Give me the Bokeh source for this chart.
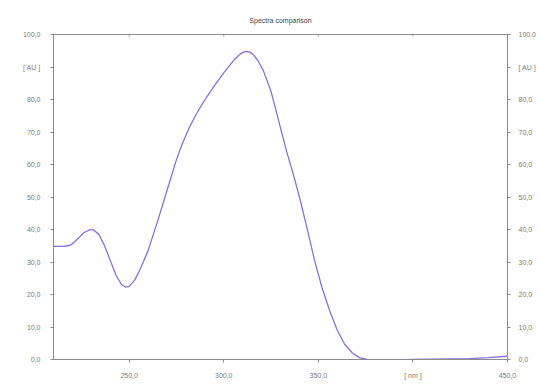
from bokeh.plotting import figure
from bokeh.models import LinearAxis, FixedTicker, Range1d, Title
from bokeh.embed import file_html
from bokeh.resources import INLINE

# Spectrum (wavelength in nm, absorbance in AU)
wavelength = [210, 215, 218, 220, 223, 226, 229, 231, 234, 237, 240, 243, 246, 248,
              250, 253, 256, 260, 265, 270, 275, 278, 280, 282, 285, 288, 291, 295,
              300, 305, 308, 310, 312, 314, 316, 318, 321, 325, 329, 333, 337, 340,
              344, 348, 352, 356, 360, 364, 368, 372, 376, 380, 390, 400, 410, 420,
              430, 440, 450]
absorbance = [34.8, 34.8, 35.0, 35.6, 37.2, 39.0, 39.9, 39.9, 38.5, 35.0, 30.5, 26.0, 23.0, 22.3,
              22.5, 24.5, 28.0, 33.5, 42.5, 52.0, 61.5, 66.2, 69.0, 71.6, 75.0, 78.0, 80.7, 84.2,
              88.2, 91.9, 93.6, 94.5, 94.8, 94.5, 93.6, 92.0, 88.8, 82.5, 73.5, 64.5, 56.5, 50.0,
              40.5, 30.5, 22.0, 15.0, 9.0, 4.6, 2.0, 0.5, 0.0, -0.1, -0.2, 0.0, 0.1, 0.2,
              0.3, 0.6, 1.0]

x_tick_values = [250, 300, 350, 400, 450]
x_tick_labels = ["250,0", "300,0", "350,0", "[ nm ]", "450,0"]
y_tick_values = [0, 10, 20, 30, 40, 50, 60, 70, 80, 90, 100]
y_tick_labels = ["0,0", "10,0", "20,0", "30,0", "40,0", "50,0", "60,0", "70,0", "80,0", "[ AU ]", "100,0"]
title_text = "Spectra comparison"

AXIS_COLOR = "#8c8c8c"
LABEL_COLOR = "#7a7a7a"
FONT = "Liberation Sans"

p = figure(width=539, height=388, output_backend="svg", toolbar_location=None,
           x_range=Range1d(210, 450), y_range=Range1d(0, 100),
           x_axis_location=None, y_axis_location=None,
           min_border_left=53, min_border_right=28, min_border_top=34, min_border_bottom=29)
p.background_fill_color = "white"
p.border_fill_color = "white"
p.outline_line_color = AXIS_COLOR
p.outline_line_width = 1
p.xgrid.visible = False
p.ygrid.visible = False

p.title = Title(text=title_text, align="center", text_font_size="7px",
                text_font=FONT, text_font_style="normal", text_color="#444444", standoff=22)

x_over = {v: l for v, l in zip(x_tick_values, x_tick_labels)}
y_over = {v: l for v, l in zip(y_tick_values, y_tick_labels)}


def style(ax):
    ax.axis_line_color = AXIS_COLOR
    ax.axis_line_width = 1
    ax.major_tick_line_color = AXIS_COLOR
    ax.major_tick_out = 3
    ax.major_tick_in = 0
    ax.minor_tick_line_color = None
    ax.major_label_text_font = FONT
    ax.major_label_text_font_size = "7px"
    ax.major_label_text_color = LABEL_COLOR
    ax.major_label_standoff = 9


bottom = LinearAxis(ticker=FixedTicker(ticks=x_tick_values), major_label_overrides=x_over)
style(bottom)
p.add_layout(bottom, "below")

left = LinearAxis(ticker=FixedTicker(ticks=y_tick_values), major_label_overrides=y_over)
style(left)
left.major_label_standoff = 10
p.add_layout(left, "left")

right = LinearAxis(ticker=FixedTicker(ticks=y_tick_values), major_label_overrides=y_over)
style(right)
right.major_label_standoff = 8
p.add_layout(right, "right")

# small tick marks hanging from the top frame edge at the x tick positions
top_ticks = x_tick_values[:-1]
p.segment(x0=top_ticks, y0=[100] * len(top_ticks), x1=top_ticks, y1=[99.4] * len(top_ticks),
          line_color=AXIS_COLOR, line_width=1)

p.line(wavelength, absorbance, line_color="#8a6fe0", line_width=1.3)

open("out.html", "w").write(file_html(p, INLINE))
